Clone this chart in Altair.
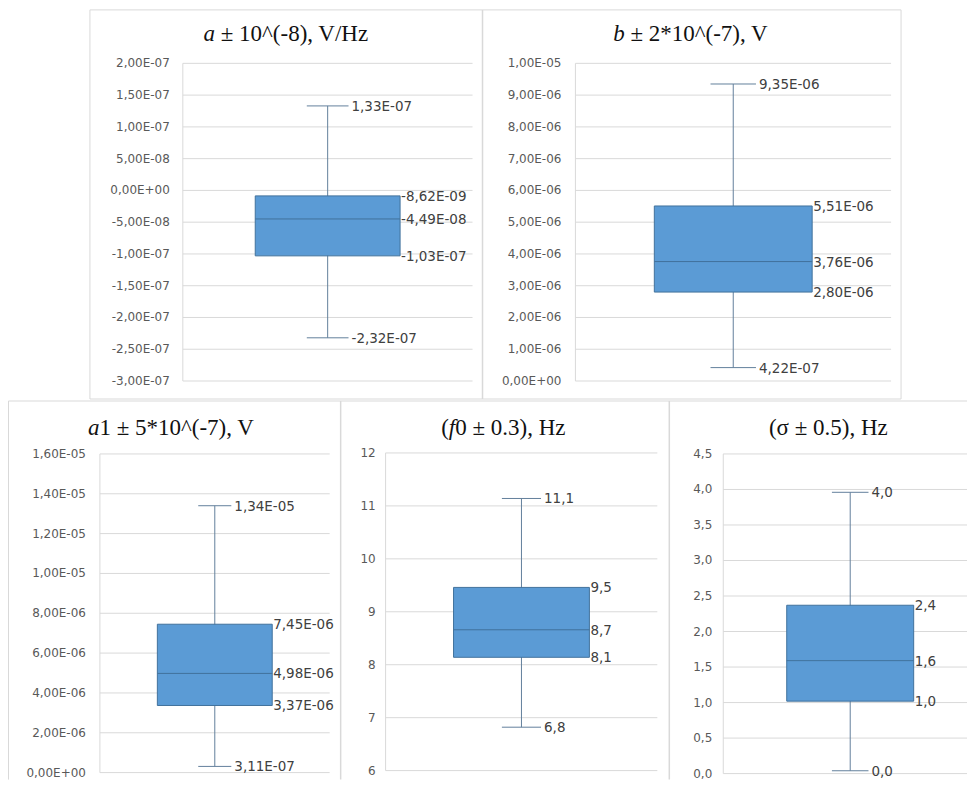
import altair as alt
import pandas as pd

# ---------------- data ----------------
# five-number summaries: min, Q1, median, Q3, max
a_vals = [-2.32e-07, -1.03e-07, -4.49e-08, -8.62e-09, 1.33e-07]
b_vals = [4.22e-07, 2.80e-06, 3.76e-06, 5.51e-06, 9.35e-06]
a1_vals = [3.11e-07, 3.37e-06, 4.98e-06, 7.45e-06, 1.34e-05]
f0_vals = [6.82, 8.14, 8.66, 9.46, 11.14]
sigma_vals = [0.04, 1.02, 1.59, 2.37, 3.96]

# y-axis tick values
a_ticks = [-3.0e-07, -2.5e-07, -2.0e-07, -1.5e-07, -1.0e-07, -5.0e-08,
           0.0, 5.0e-08, 1.0e-07, 1.5e-07, 2.0e-07]
b_ticks = [0.0, 1.0e-06, 2.0e-06, 3.0e-06, 4.0e-06, 5.0e-06,
           6.0e-06, 7.0e-06, 8.0e-06, 9.0e-06, 1.0e-05]
a1_ticks = [0.0, 2.0e-06, 4.0e-06, 6.0e-06, 8.0e-06, 1.0e-05,
            1.2e-05, 1.4e-05, 1.6e-05]
f0_ticks = [6, 7, 8, 9, 10, 11, 12]
sigma_ticks = [0.0, 0.5, 1.0, 1.5, 2.0, 2.5, 3.0, 3.5, 4.0, 4.5]

# panel titles as (text, italic) pieces
a_title = [("a", True), (" \u00b1 10^(-8), V/Hz", False)]
b_title = [("b", True), (" \u00b1 2*10^(-7), V", False)]
a1_title = [("a", True), ("1 \u00b1 5*10^(-7), V", False)]
f0_title = [("(", False), ("f", True), ("0 \u00b1 0.3), Hz", False)]
sigma_title = [("(\u03c3 \u00b1 0.5), Hz", False)]

# ---------------- styles ----------------
BOX_FILL = "#5B9BD5"
BOX_STROKE = "#41719C"
MEDIAN = "#41719C"
WHISKER = "#62809C"
GRID = "#D9D9D9"
BORDER = "#D9D9D9"
AXIS_LABEL = "#595959"
DATA_LABEL = "#404040"
TITLE_FONT = "Liberation Serif"
TITLE_SIZE = 23
CAP_HALF = 0.072
VIEW_W, VIEW_H = 960, 771

SERIF_W = {" ": 250, "\u00b1": 564, "^": 469, "(": 333, ")": 333, "-": 333,
           ",": 250, ".": 250, "V": 722, "/": 278, "H": 722, "z": 444,
           "*": 500, "\u03c3": 550, "f": 278, "a": 500, "b": 500}


def seg_w(s):
    return sum(SERIF_W.get(c, 500) for c in s) / 1000.0 * TITLE_SIZE


def fmt_e(v):
    return f"{v:.2E}".replace(".", ",")


def fmt_1(v):
    return f"{v:.1f}".replace(".", ",")


def fmt_0(v):
    return f"{v:.0f}"


one = pd.DataFrame({"k": [0]})


def title_layers(title, cx, cy):
    total = sum(seg_w(s) for s, _ in title)
    xpos = cx - total / 2.0
    out = []
    for s, it in title:
        lead = len(s) - len(s.lstrip(" "))
        xpos += seg_w(" ") * lead
        body = s.lstrip(" ")
        out.append(alt.Chart(one).mark_text(
            text=body, font=TITLE_FONT, fontSize=TITLE_SIZE,
            fontStyle="italic" if it else "normal", align="left",
            baseline="middle", color="#111111").encode(
            x=alt.value(xpos), y=alt.value(cy)))
        xpos += seg_w(body)
    return out


def panel(vals, ticks, tick_fmt, val_fmt, xr, yr, pad, xmax=1.0):
    df = pd.DataFrame({"lo": [vals[0]], "q1": [vals[1]], "med": [vals[2]],
                       "q3": [vals[3]], "hi": [vals[4]]})
    tick_df = pd.DataFrame({"t": ticks, "lab": [tick_fmt(t) for t in ticks]})
    xscale = alt.Scale(domain=[0, xmax], range=xr, nice=False, zero=False)
    yscale = alt.Scale(domain=[ticks[0], ticks[-1]], range=yr, nice=False,
                       zero=False)

    def X(v):
        return alt.XDatum(v, type="quantitative", scale=xscale, axis=None)

    def X2(v):
        return alt.X2Datum(v)

    def Y(f):
        return alt.Y(f"{f}:Q", scale=yscale, axis=None)

    base = alt.Chart(df)
    tb = alt.Chart(tick_df)
    layers = [
        # gridlines, axis line and tick labels
        tb.mark_rule(color=GRID, strokeWidth=1).encode(
            x=X(0), x2=X2(xmax), y=Y("t")),
        base.mark_rule(color=GRID, strokeWidth=1).encode(
            x=X(0), y=alt.YDatum(ticks[0], type="quantitative", scale=yscale,
                                 axis=None),
            y2=alt.Y2Datum(ticks[-1])),
        tb.mark_text(align="right", baseline="middle", dx=-pad,
                     font="DejaVu Sans", fontSize=12, color=AXIS_LABEL).encode(
            x=X(0), y=Y("t"), text="lab:N"),
        # whisker and caps
        base.mark_rule(color=WHISKER, strokeWidth=1).encode(
            x=X(0.5), y=Y("lo"), y2="hi"),
        base.mark_rule(color=WHISKER, strokeWidth=1).encode(
            x=X(0.5 - CAP_HALF), x2=X2(0.5 + CAP_HALF), y=Y("lo")),
        base.mark_rule(color=WHISKER, strokeWidth=1).encode(
            x=X(0.5 - CAP_HALF), x2=X2(0.5 + CAP_HALF), y=Y("hi")),
        # box and median
        base.mark_rect(fill=BOX_FILL, stroke=BOX_STROKE, strokeWidth=1).encode(
            x=X(0.25), x2=X2(0.75), y=Y("q1"), y2="q3"),
        base.mark_rule(color=MEDIAN, strokeWidth=1).encode(
            x=X(0.25), x2=X2(0.75), y=Y("med")),
    ]
    cap_df = pd.DataFrame({"v": [vals[0], vals[4]],
                           "txt": [val_fmt(vals[0]), val_fmt(vals[4])]})
    box_df = pd.DataFrame({"v": vals[1:4],
                           "txt": [val_fmt(v) for v in vals[1:4]]})
    layers.append(alt.Chart(cap_df).mark_text(
        align="left", baseline="middle", dx=3, dy=1, font="DejaVu Sans",
        fontSize=13.5, color=DATA_LABEL).encode(
        x=X(0.5 + CAP_HALF), y=Y("v"), text="txt:N"))
    layers.append(alt.Chart(box_df).mark_text(
        align="left", baseline="middle", dx=1, dy=1, font="DejaVu Sans",
        fontSize=13.5, color=DATA_LABEL).encode(
        x=X(0.75), y=Y("v"), text="txt:N"))
    return alt.layer(*layers)


# panels (scale ranges in view pixels; view origin is page (8, 8))
tl = panel(a_vals, a_ticks, fmt_e, fmt_e, xr=[175, 465], yr=[372, 54], pad=13)
tr = panel(b_vals, b_ticks, fmt_e, fmt_e, xr=[568, 884], yr=[372, 54], pad=14)
bl = panel(a1_vals, a1_ticks, fmt_e, fmt_e, xr=[92, 322], yr=[764, 445],
           pad=14)
bm = panel(f0_vals, f0_ticks, fmt_0, fmt_1, xr=[378, 650], yr=[762, 444],
           pad=10)
br = panel(sigma_vals, sigma_ticks, fmt_1, fmt_1, xr=[716, 960],
           yr=[765, 445], pad=11, xmax=0.96)

# panel frames
ob = alt.Chart(one)
frame = [
    ob.mark_rule(color=BORDER).encode(x=alt.value(82), x2=alt.value(894),
                                      y=alt.value(0.5)),
    ob.mark_rule(color=BORDER).encode(x=alt.value(82), x2=alt.value(894),
                                      y=alt.value(390)),
    ob.mark_rule(color=BORDER).encode(x=alt.value(82), y=alt.value(0.5),
                                      y2=alt.value(390)),
    ob.mark_rule(color=BORDER, strokeWidth=1.5).encode(
        x=alt.value(475), y=alt.value(0.5), y2=alt.value(390)),
    ob.mark_rule(color=BORDER).encode(x=alt.value(894), y=alt.value(0.5),
                                      y2=alt.value(390)),
    ob.mark_rule(color=BORDER).encode(x=alt.value(0.5), x2=alt.value(960),
                                      y=alt.value(392)),
    ob.mark_rule(color=BORDER).encode(x=alt.value(0.5), y=alt.value(392),
                                      y2=alt.value(VIEW_H)),
    ob.mark_rule(color=BORDER, strokeWidth=1.5).encode(
        x=alt.value(333), y=alt.value(392), y2=alt.value(VIEW_H)),
    ob.mark_rule(color=BORDER, strokeWidth=1.5).encode(
        x=alt.value(662), y=alt.value(392), y2=alt.value(VIEW_H)),
]
titles = (title_layers(a_title, 278.5, 25) + title_layers(b_title, 683.5, 25)
          + title_layers(a1_title, 163.5, 419) + title_layers(f0_title, 496, 419)
          + title_layers(sigma_title, 821.5, 419))

chart = alt.layer(*frame, *titles, tl, tr, bl, bm, br).resolve_scale(
    x="independent", y="independent").properties(
    width=VIEW_W, height=VIEW_H, padding=0, background="white"
).configure_view(strokeWidth=0)

chart.save("out.html", embed_options={"renderer": "svg", "actions": False})
